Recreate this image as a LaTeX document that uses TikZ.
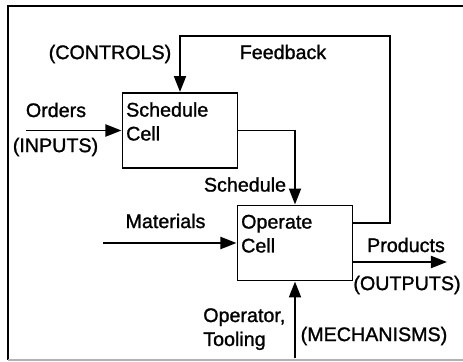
\documentclass[tikz,border=0pt]{standalone}
\usepackage{fontspec}
\setmainfont{Liberation Sans}[FakeBold=1.2]
\usetikzlibrary{arrows.meta}
\usetikzlibrary{positioning}

\tikzset{
  cell/.style={draw, line width=1.4pt, minimum width=2.875cm, minimum height=1.875cm, inner sep=0pt},
  celltext/.style={anchor=north west, align=left, inner xsep=0.11cm, inner ysep=0.25cm},
  flow/.style={->, line width=1.4pt},
  tag/.style={inner sep=0pt},
}

\begin{document}
\begin{tikzpicture}[>={Triangle[length=4mm,width=3mm]}, x=0.025cm, y=-0.025cm, font=\fontsize{14}{17}\selectfont]
    \useasboundingbox (0,0) rectangle (463,362);
% outer frame, right side runs off the page
\draw[line width=1.3pt] (463,6) -- (8,6) -- (8,360);
\draw[gray!60, line width=0.8pt] (8,360) -- (463,360);

\node[cell] (sched) at (180,130.5) {};
\node[cell] (oper) at (295,243) {};
\node[celltext] (schedtxt) at (sched.north west) {Schedule\\Cell};
\node[celltext] (opertxt) at (oper.north west) {Operate\\Cell};

% loose ends of the arrows
\coordinate (fb) at (390,36);
\coordinate (orders) at (26,130.5);
\coordinate (mat) at (103,243);
\coordinate (prod) at (447,262);
\coordinate (mech) at (295,358);

\draw[flow] ([yshift=0.5cm]oper.east) -| (fb) -| (sched.north);
\draw[flow] (sched.east) -| (oper.north);
\draw[flow] (orders) -- (sched.west);
\draw[flow] (mat) -- (oper.west);
\draw[flow] (oper.east |- prod) -- (prod);
\draw[flow] (mech) -- (oper.south);

%labels
\foreach \nm/\x/\y/\txt in {ctl/110/54/{(CONTROLS)}, fbk/283/52/Feedback,
    ord/56/110/Orders, inp/55.5/147/{(INPUTS)}, sch/245/184.5/Schedule,
    mtl/165.5/221/Materials, prd/406/245/Products, outp/407/285/{(OUTPUTS)},
    mchn/374/336/{(MECHANISMS)}}
  \node[tag] (\nm) at (\x,\y) {\txt};
\node[tag, anchor=north west, align=left] (optool) at (203,308) {Operator,\\Tooling};
\end{tikzpicture}
\end{document}
